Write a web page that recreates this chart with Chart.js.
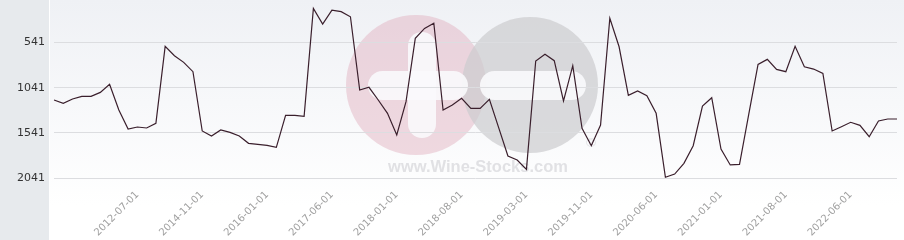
<!DOCTYPE html>
<html>
<head>
<meta charset="utf-8">
<script src="https://cdn.jsdelivr.net/npm/chart.js@4.4.1/dist/chart.umd.min.js"></script>
<style>
  html, body { margin: 0; padding: 0; background: #fff; }
  #wrap { width: 904px; height: 240px; position: relative; }
</style>
</head>
<body>
<div id="wrap"><canvas id="priceChart" width="904" height="240"></canvas></div>
<script>
// tick labels shown on the x axis and the point index each one sits on
const tickLabels = ['2012-07-01', '2014-11-01', '2016-01-01', '2017-06-01', '2018-01-01', '2018-08-01',
    '2019-03-01', '2019-11-01', '2020-06-01', '2021-01-01', '2021-08-01', '2022-06-01'];
const tickIndexes = [9, 16, 23, 30, 37, 44, 51, 58, 65, 72, 79, 86];

// y axis ticks (axis is reversed: best rank on top)
const yTicks = [541, 1041, 1541, 2041];

// series values, one per point
const rankValues = [
    1177, 1214, 1166, 1137, 1137, 1093, 1004, 1288, 1497, 1475,
    1486, 1434, 585, 689, 762, 865, 1519, 1575, 1508, 1534,
    1575, 1655, 1666, 1677, 1699, 1346, 1346, 1357, 166, 339,
    185, 203, 259, 1067, 1037, 1177, 1324, 1563, 1196, 497,
    387, 331, 1288, 1233, 1159, 1269, 1269, 1170, 1482, 1795,
    1839, 1942, 747, 673, 744, 1188, 799, 1490, 1682, 1453,
    276, 590, 1126, 1078, 1130, 1324, 2030, 1994, 1876, 1682,
    1244, 1152, 1718, 1894, 1887, 1332, 784, 729, 839, 865,
    585, 810, 836, 883, 1519, 1472, 1423, 1457, 1582, 1409,
    1387, 1387
];

const categories = rankValues.map((v, i) => {
    const k = tickIndexes.indexOf(i);
    return k >= 0 ? tickLabels[k] : '';
});

// background panels and the faint watermark behind the line
const backdrop = {
    id: 'backdrop',
    beforeDraw(chart) {
        const { ctx, width, height } = chart;
        ctx.save();
        ctx.fillStyle = '#e7eaed';
        ctx.fillRect(0, 0, 49, height);
        const grad = ctx.createLinearGradient(0, 0, 0, 205);
        grad.addColorStop(0, '#eff1f5');
        grad.addColorStop(1, '#ffffff');
        ctx.fillStyle = grad;
        ctx.fillRect(50, 0, width - 50, height);

        ctx.fillStyle = 'rgba(224, 172, 188, 0.45)';
        ctx.beginPath();
        ctx.arc(416, 85, 70, 0, Math.PI * 2);
        ctx.fill();
        ctx.fillStyle = 'rgba(204, 204, 207, 0.7)';
        ctx.beginPath();
        ctx.arc(530, 85, 68, 0, Math.PI * 2);
        ctx.fill();

        ctx.fillStyle = 'rgba(250, 250, 252, 0.9)';
        const bar = (x, y, w, h) => {
            const r = Math.min(w, h) / 2;
            ctx.beginPath();
            ctx.roundRect(x, y, w, h, r);
            ctx.fill();
        };
        bar(408, 32, 28, 106);
        bar(368, 71, 100, 29);
        bar(480, 71, 106, 29);

        ctx.fillStyle = 'rgba(218, 218, 221, 0.8)';
        ctx.font = 'bold 16.5px "Liberation Sans", Arial, sans-serif';
        ctx.textAlign = 'center';
        ctx.textBaseline = 'alphabetic';
        ctx.fillText('www.Wine-Stocks.com', 478, 172);
        ctx.font = '13px "DejaVu Sans", sans-serif';
        ctx.fillText('®', 591, 147);
        ctx.restore();
    }
};

new Chart(document.getElementById('priceChart'), {
    type: 'line',
    data: {
        labels: categories,
        datasets: [{
            data: rankValues,
            borderColor: '#3a1f2c',
            borderWidth: 1.2,
            pointRadius: 0,
            tension: 0,
            fill: false
        }]
    },
    options: {
        responsive: false,
        animation: false,
        layout: { padding: { top: 0, right: 7, bottom: 0, left: 0 } },
        plugins: {
            legend: { display: false },
            tooltip: { enabled: false }
        },
        scales: {
            x: {
                type: 'category',
                offset: false,
                grid: { display: false },
                border: { display: false },
                ticks: {
                    autoSkip: false,
                    minRotation: 45,
                    maxRotation: 45,
                    padding: -5,
                    color: '#a0a0a0',
                    font: { family: 'DejaVu Sans', size: 10 }
                },
                afterFit(scale) {
                    scale.height = 54;
                    scale.paddingLeft = 0;
                    scale.paddingRight = 0;
                }
            },
            y: {
                reverse: true,
                min: 74,
                max: 2126,
                grid: { color: '#dcdde0', drawTicks: false },
                border: { display: false },
                ticks: {
                    padding: 9,
                    color: '#333333',
                    font: { family: 'DejaVu Sans', size: 11 },
                    callback: v => String(v)
                },
                afterBuildTicks(scale) {
                    scale.ticks = yTicks.map(v => ({ value: v }));
                },
                afterFit(scale) {
                    scale.width = 54;
                    scale.paddingTop = 0;
                    scale.paddingBottom = 0;
                }
            }
        }
    },
    plugins: [backdrop]
});
</script>
</body>
</html>
